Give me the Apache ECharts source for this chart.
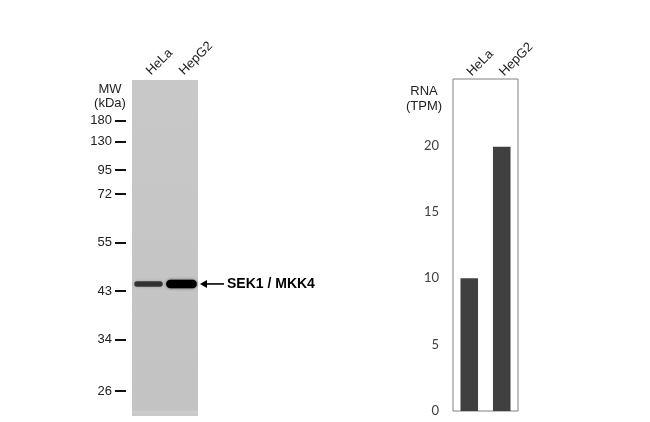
<!DOCTYPE html>
<html>
<head>
<meta charset="utf-8">
<script src="https://cdn.jsdelivr.net/npm/echarts@6/dist/echarts.min.js"></script>
<style>html,body{margin:0;padding:0;background:#fff}#c{width:650px;height:422px}</style>
</head>
<body>
<div id="c"></div>
<script>
// ---- data ----
var lanes = ['HeLa', 'HepG2'];
// molecular-weight ladder (kDa) and relative mobility (0 = top of gel, 1 = bottom)
var mwLabels = ['180', '130', '95', '72', '55', '43', '34', '26'];
var mwMobility = [0.121, 0.184, 0.268, 0.340, 0.484, 0.628, 0.772, 0.926];
// detected bands
var bandLanes = ['HeLa', 'HepG2'];
var bandMobility = [0.607, 0.607];
var bandIntensity = [0.55, 1.0];
var targetName = 'SEK1 / MKK4';
var targetLane = 'HepG2';
var targetMobility = 0.607;
// RNA expression
var rnaValues = [10.0, 19.9];
var rnaTicks = [0, 5, 10, 15, 20];

var chart = echarts.init(document.getElementById('c'), null, {renderer: 'canvas'});
var FONT = 'Liberation Sans';

var bandData = bandLanes.map(function (l, i) { return [l, bandMobility[i], bandIntensity[i]]; });

var option = {
  backgroundColor: '#ffffff',
  animation: false,
  title: [
    {text: 'MW\n(kDa)', left: 105, top: 77, textAlign: 'center',
     textStyle: {fontFamily: FONT, fontSize: 13, fontWeight: 'normal', color: '#222', lineHeight: 14}},
    {text: 'RNA\n(TPM)', left: 419, top: 79, textAlign: 'center',
     textStyle: {fontFamily: FONT, fontSize: 13, fontWeight: 'normal', color: '#222', lineHeight: 15}}
  ],
  grid: [
    {left: 132, top: 80, width: 66, height: 336, show: true, borderWidth: 0,
     backgroundColor: new echarts.graphic.LinearGradient(0, 0, 0, 1, [
       {offset: 0, color: '#c8c8c8'}, {offset: 0.983, color: '#c3c3c3'},
       {offset: 0.986, color: '#cdcdcd'}, {offset: 1, color: '#c6c6c6'}])},
    {left: 453, top: 79, width: 65, height: 332, show: true, borderWidth: 1,
     borderColor: '#808080', backgroundColor: '#ffffff'}
  ],
  xAxis: [
    {type: 'category', gridIndex: 0, data: lanes, position: 'top',
     axisLine: {show: false}, axisTick: {show: false}, splitLine: {show: false},
     axisLabel: {rotate: 45, margin: 7, fontFamily: FONT, fontSize: 13, color: '#222'}},
    {type: 'category', gridIndex: 1, data: lanes, position: 'top',
     axisLine: {show: false}, axisTick: {show: false}, splitLine: {show: false},
     axisLabel: {rotate: 45, margin: 5, fontFamily: FONT, fontSize: 13, color: '#222'}}
  ],
  yAxis: [
    {type: 'value', gridIndex: 0, min: 0, max: 1, inverse: true, offset: 6,
     axisLine: {show: false}, splitLine: {show: false},
     axisTick: {show: true, customValues: mwMobility, length: 11, inside: false,
                lineStyle: {color: '#111', width: 2}},
     axisLabel: {customValues: mwMobility, margin: 14, fontFamily: FONT, fontSize: 13, color: '#222',
                 formatter: function (v) {
                   var i = mwMobility.indexOf(v);
                   return i >= 0 ? mwLabels[i] : '';
                 }}},
    {type: 'value', gridIndex: 1, min: 0, max: 25,
     axisLine: {show: false}, splitLine: {show: false}, axisTick: {show: false},
     axisLabel: {customValues: rnaTicks, margin: 14, fontFamily: 'Lato', fontSize: 13, color: '#404040'}}
  ],
  series: [
    {
      type: 'custom', xAxisIndex: 0, yAxisIndex: 0, clip: false,
      data: bandData,
      encode: {x: 0, y: 1},
      renderItem: function (params, api) {
        var pt = api.coord([api.value(0), api.value(1)]);
        var cw = api.size([1, 0])[0];
        var inten = api.value(2);
        var w = cw * (0.78 + 0.15 * inten);
        var h = 1.5 + 7 * inten;
        return {
          type: 'rect',
          shape: {x: pt[0] - w / 2, y: pt[1] - h / 2, width: w, height: h, r: h / 2},
          style: {fill: 'rgba(0,0,0,' + (0.3 + 0.7 * inten) + ')',
                  shadowBlur: 3, shadowColor: 'rgba(0,0,0,' + (0.6 * inten) + ')'}
        };
      }
    },
    {
      type: 'custom', xAxisIndex: 0, yAxisIndex: 0, clip: false,
      data: [[targetLane, targetMobility]],
      encode: {x: 0, y: 1},
      renderItem: function (params, api) {
        var pt = api.coord([api.value(0), api.value(1)]);
        var cw = api.size([1, 0])[0];
        var xr = pt[0] + cw / 2;
        var y = pt[1];
        return {
          type: 'group',
          children: [
            {type: 'line', shape: {x1: xr + 4, y1: y, x2: xr + 26, y2: y},
             style: {stroke: '#000', lineWidth: 1.6}},
            {type: 'polygon', shape: {points: [[xr + 2, y], [xr + 9, y - 4], [xr + 9, y + 4]]},
             style: {fill: '#000'}},
            {type: 'text', x: xr + 29, y: y,
             style: {text: targetName, fontFamily: FONT, fontSize: 14, fontWeight: 'bold',
                     fill: '#000', verticalAlign: 'middle', align: 'left'}}
          ]
        };
      }
    },
    {
      type: 'bar', xAxisIndex: 1, yAxisIndex: 1, data: rnaValues,
      barWidth: '54%', itemStyle: {color: '#404040'}
    }
  ]
};
chart.setOption(option);
</script>
</body>
</html>
